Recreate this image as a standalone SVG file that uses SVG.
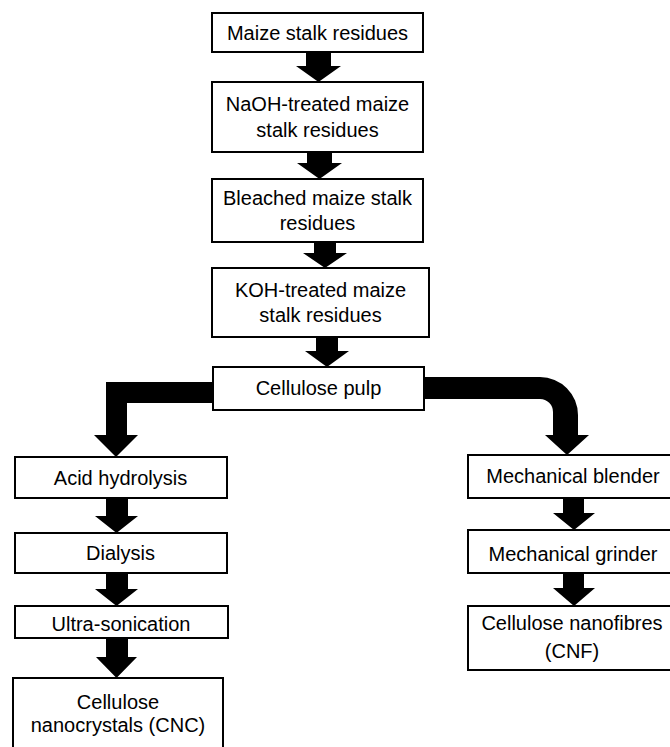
<svg xmlns="http://www.w3.org/2000/svg" width="670" height="747" viewBox="0 0 670 747">
<style>
.box{fill:#fff;stroke:#000;stroke-width:2}
.t{font-family:"Liberation Sans",Arial,sans-serif;font-size:20px;fill:#000;text-anchor:middle}
.c{fill:#000;stroke:none}
</style>
<rect width="670" height="747" fill="#fff"/>
<g id="connectors">
<polygon class="c" points="306,52 331,52 331,66 341,66 318.5,82 296,66 306,66"/>
<polygon class="c" points="307,152 332,152 332,163 342,163 319.5,179 297,163 307,163"/>
<polygon class="c" points="314,242 336,242 336,253 347,253 325,268 303,253 314,253"/>
<polygon class="c" points="316,337 338,337 338,351 349,351 327,367 305,351 316,351"/>
<polygon class="c" points="213,382 106,382 106,435 94,435 116,457 138,435 127,435 127,403 213,403"/>
<path class="c" d="M424,377 H540 A38,38 0 0 1 578,415 V435 H589 L567,455 L545,435 H553 V412 A13,13 0 0 0 540,399 H424 Z"/>
<polygon class="c" points="106,498 128,498 128,516 138,516 116.5,533 95,516 106,516"/>
<polygon class="c" points="106,573 128,573 128,589 138,589 116.5,606 95,589 106,589"/>
<polygon class="c" points="106,638 128,638 128,657 137,657 116.5,678 96,657 106,657"/>
<polygon class="c" points="563,498 584,498 584,513 595,513 574,530 553,513 563,513"/>
<polygon class="c" points="563,573 584,573 584,588 595,588 574,606 553,588 563,588"/>
</g>
<g id="maize">
<rect class="box" x="212" y="13" width="211" height="39"/>
<text class="t" x="317.5" y="39.5">Maize stalk residues</text>
</g>
<g id="naoh">
<rect class="box" x="212" y="82" width="211" height="70"/>
<text class="t" x="317.5" y="111">NaOH-treated maize</text>
<text class="t" x="317.5" y="137">stalk residues</text>
</g>
<g id="bleached">
<rect class="box" x="212" y="179" width="211" height="63"/>
<text class="t" x="317.5" y="205">Bleached maize stalk</text>
<text class="t" x="317.5" y="230">residues</text>
</g>
<g id="koh">
<rect class="box" x="212" y="268" width="217" height="69"/>
<text class="t" x="320.5" y="297">KOH-treated maize</text>
<text class="t" x="320.5" y="322">stalk residues</text>
</g>
<g id="pulp">
<rect class="box" x="213" y="367" width="211" height="43"/>
<text class="t" x="318.5" y="395">Cellulose pulp</text>
</g>
<g id="acid">
<rect class="box" x="15" y="457" width="212" height="41"/>
<text class="t" x="120.5" y="485">Acid hydrolysis</text>
</g>
<g id="dialysis">
<rect class="box" x="15" y="533" width="212" height="40"/>
<text class="t" x="120.5" y="560">Dialysis</text>
</g>
<g id="sonication">
<rect class="box" x="15" y="606" width="213" height="32"/>
<text class="t" x="121" y="631">Ultra-sonication</text>
</g>
<g id="cnc">
<rect class="box" x="13" y="678" width="210" height="80"/>
<text class="t" x="118" y="709">Cellulose</text>
<text class="t" x="118" y="732">nanocrystals (CNC)</text>
</g>
<g id="blender">
<rect class="box" x="468" y="455" width="212" height="43"/>
<text class="t" x="573" y="483">Mechanical blender</text>
</g>
<g id="grinder">
<rect class="box" x="468" y="530" width="212" height="43"/>
<text class="t" x="573" y="561">Mechanical grinder</text>
</g>
<g id="cnf">
<rect class="box" x="468" y="606" width="212" height="64"/>
<text class="t" x="572" y="630">Cellulose nanofibres</text>
<text class="t" x="572" y="658">(CNF)</text>
</g>
</svg>
